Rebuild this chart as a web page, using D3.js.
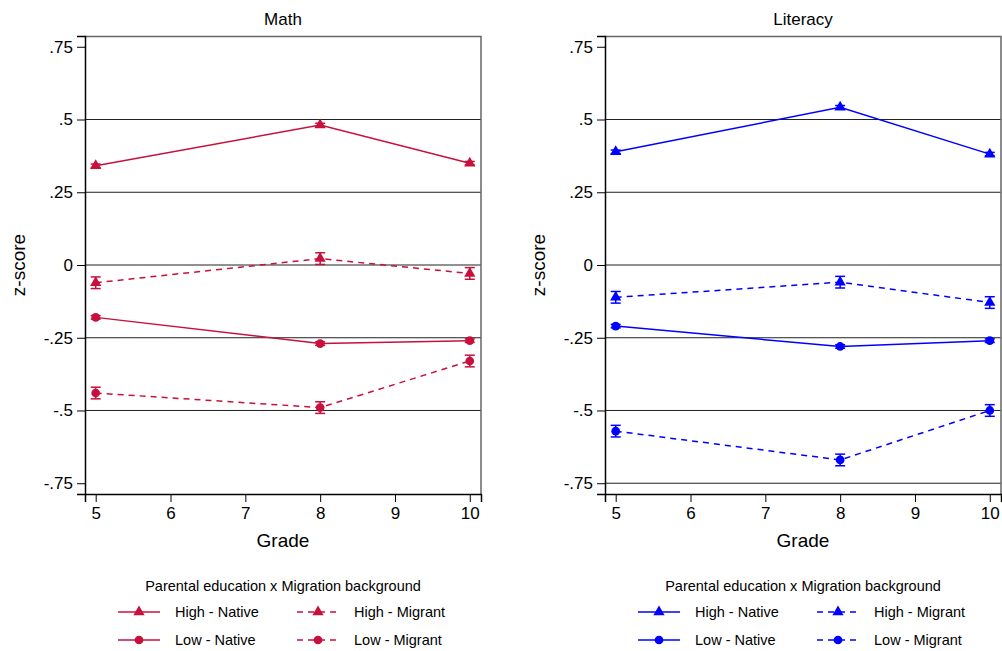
<!DOCTYPE html>
<html>
<head>
<meta charset="utf-8">
<script src="https://cdn.jsdelivr.net/npm/d3@7"></script>
<style>
body { margin: 0; background: #fff; }
text { font-family: "Liberation Sans", Arial, sans-serif; fill: #000; }
</style>
</head>
<body>
<svg width="1002" height="651"></svg>
<script>
var grades = [5, 8, 10];
var xTicks = [5, 6, 7, 8, 9, 10];
var yTicks = [0.75, 0.5, 0.25, 0, -0.25, -0.5, -0.75];
var yTickLabels = ['.75', '.5', '.25', '0', '-.25', '-.5', '-.75'];
var groups = ['High - Native', 'High - Migrant', 'Low - Native', 'Low - Migrant'];
var groupMarker = ['triangle', 'triangle', 'circle', 'circle'];
var groupDashed = [false, true, false, true];

// math means per group (grade 5, 8, 10)
var mathHighNative = [0.341, 0.481, 0.350];
var mathHighMigrant = [-0.061, 0.022, -0.029];
var mathLowNative = [-0.180, -0.270, -0.260];
var mathLowMigrant = [-0.440, -0.490, -0.330];
var mathErr = [0.006, 0.02, 0.006, 0.02];

// literacy means per group
var litHighNative = [0.389, 0.542, 0.381];
var litHighMigrant = [-0.111, -0.059, -0.129];
var litLowNative = [-0.210, -0.280, -0.260];
var litLowMigrant = [-0.571, -0.670, -0.500];
var litErr = [0.006, 0.02, 0.006, 0.02];

var svg = d3.select('svg');

var ScaleX = d3.scaleLinear().domain([4.857, 10.15]).range([0, 396]);
var ScaleY = d3.scaleLinear().domain([-0.787, 0.787]).range([458, 0]);

function drawPanel(left, title, color, series, errs, gridTicks) {
    var g = svg.append('g').attr('transform', 'translate(' + left + ',36)');

    // gridlines
    g.selectAll('.grid').data(gridTicks).enter().append('line')
        .attr('x1', 0).attr('x2', 396)
        .attr('y1', function(d){ return ScaleY(d); })
        .attr('y2', function(d){ return ScaleY(d); })
        .attr('stroke', '#222').attr('stroke-width', 1);

    // frame (right / top)
    g.append('path')
        .attr('d', 'M0,0.5H396V458')
        .attr('fill', 'none').attr('stroke', '#666').attr('stroke-width', 1.5);

    var ax = g.append('g').attr('transform', 'translate(0,458)')
        .call(d3.axisBottom(ScaleX).tickValues(xTicks).tickSize(8).tickPadding(5).tickFormat(d3.format('d')));
    ax.select('.domain').attr('stroke', '#000').attr('stroke-width', 1.5);
    ax.selectAll('line').attr('stroke', '#000');
    ax.selectAll('text').style('font-size', '17px');

    var ay = g.append('g')
        .call(d3.axisLeft(ScaleY).tickValues(yTicks).tickSize(8).tickPadding(4)
            .tickFormat(function(d, i){ return yTickLabels[i]; }));
    ay.select('.domain').attr('stroke', '#000').attr('stroke-width', 1.5);
    ay.selectAll('line').attr('stroke', '#000');
    ay.selectAll('text').style('font-size', '17px');

    g.append('text').text(title)
        .attr('x', 198).attr('y', -11)
        .style('text-anchor', 'middle').style('font-size', '17px');
    g.append('text').text('Grade')
        .attr('x', 198).attr('y', 511)
        .style('text-anchor', 'middle').style('font-size', '19px');
    g.append('text').text('z-score')
        .attr('transform', 'translate(-60,229)rotate(-90)')
        .style('text-anchor', 'middle').style('font-size', '19px');

    var line = d3.line()
        .x(function(d){ return ScaleX(d.x); })
        .y(function(d){ return ScaleY(d.y); });

    series.forEach(function(vals, i){
        var pts = grades.map(function(x, j){ return {x: x, y: vals[j], e: errs[i]}; });

        g.append('path').datum(pts)
            .attr('d', line)
            .attr('fill', 'none')
            .attr('stroke', color)
            .attr('stroke-width', 1.5)
            .attr('stroke-dasharray', groupDashed[i] ? '6,5' : null);

        // error bars
        var eb = g.selectAll('.eb' + i).data(pts).enter().append('g');
        eb.append('line')
            .attr('x1', function(d){ return ScaleX(d.x); })
            .attr('x2', function(d){ return ScaleX(d.x); })
            .attr('y1', function(d){ return ScaleY(d.y - d.e); })
            .attr('y2', function(d){ return ScaleY(d.y + d.e); })
            .attr('stroke', color).attr('stroke-width', 1.5);
        [-1, 1].forEach(function(s){
            eb.append('line')
                .attr('x1', function(d){ return ScaleX(d.x) - 5; })
                .attr('x2', function(d){ return ScaleX(d.x) + 5; })
                .attr('y1', function(d){ return ScaleY(d.y + s * d.e); })
                .attr('y2', function(d){ return ScaleY(d.y + s * d.e); })
                .attr('stroke', color).attr('stroke-width', 1.5);
        });

        var sym = groupMarker[i] == 'triangle'
            ? d3.symbol().type(d3.symbolTriangle).size(55)
            : d3.symbol().type(d3.symbolCircle).size(60);
        g.selectAll('.mk' + i).data(pts).enter().append('path')
            .attr('d', sym)
            .attr('transform', function(d){ return 'translate(' + ScaleX(d.x) + ',' + ScaleY(d.y) + ')'; })
            .attr('fill', color);
    });

    // legend
    var lg = svg.append('g').attr('transform', 'translate(' + left + ',0)');
    lg.append('text').text('Parental education x Migration background')
        .attr('x', 198).attr('y', 591)
        .style('text-anchor', 'middle').style('font-size', '14.5px');
    groups.forEach(function(name, i){
        var col = i % 2, row = Math.floor(i / 2);
        var lx = col == 0 ? 33 : 212;
        var ly = 612 + row * 28;
        lg.append('line')
            .attr('x1', lx).attr('x2', lx + 42)
            .attr('y1', ly).attr('y2', ly)
            .attr('stroke', color).attr('stroke-width', 1.5)
            .attr('stroke-dasharray', groupDashed[i] ? '6,5' : null);
        var sym = groupMarker[i] == 'triangle'
            ? d3.symbol().type(d3.symbolTriangle).size(55)
            : d3.symbol().type(d3.symbolCircle).size(60);
        lg.append('path').attr('d', sym)
            .attr('transform', 'translate(' + (lx + 21) + ',' + ly + ')')
            .attr('fill', color);
        lg.append('text').text(name)
            .attr('x', lx + 57).attr('y', ly + 5)
            .style('font-size', '14.5px');
    });
}

drawPanel(85, 'Math', '#c8103c',
    [mathHighNative, mathHighMigrant, mathLowNative, mathLowMigrant], mathErr,
    [0.5, 0.25, 0, -0.25, -0.5]);

drawPanel(605, 'Literacy', '#0000ff',
    [litHighNative, litHighMigrant, litLowNative, litLowMigrant], litErr,
    [0.5, 0.25, 0, -0.25, -0.5, -0.75]);
</script>
</body>
</html>
